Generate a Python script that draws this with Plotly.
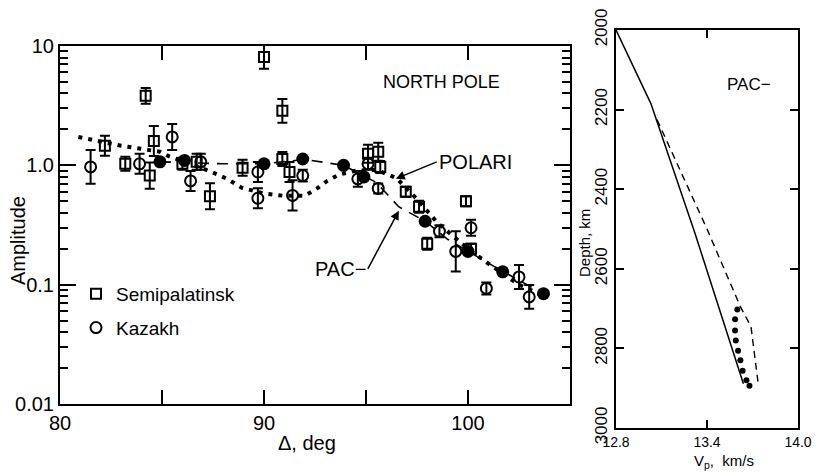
import numpy as np
import plotly.graph_objects as go

# ---------------- data: left panel (amplitude vs distance) ----------------
semi_x = [82.2, 83.2, 84.2, 84.4, 84.6, 86.0, 86.7, 87.35, 88.95, 90.0, 90.9, 90.9, 91.25,
          95.1, 95.6, 95.7, 96.95, 97.6, 98.0, 99.9, 100.15]
semi_y = [1.46, 1.03, 3.82, 0.82, 1.60, 1.03, 1.07, 0.55, 0.955, 8.1, 2.86, 1.13, 0.88,
          1.25, 1.30, 0.97, 0.60, 0.45, 0.22, 0.50, 0.20]
semi_err_log = [0.084, 0.059, 0.067, 0.109, 0.126, 0.05, 0.067, 0.109, 0.067, 0.10, 0.10, 0.059, 0.084,
                0.075, 0.075, 0.05, 0.042, 0.05, 0.05, 0.042, 0.042]

kaz_x = [81.5, 83.9, 85.5, 86.4, 86.9, 89.7, 89.7, 91.4, 91.9, 94.6, 95.1, 95.6,
         98.6, 99.4, 100.15, 100.9, 102.5, 103.0]
kaz_y = [0.97, 1.03, 1.73, 0.74, 1.07, 0.88, 0.53, 0.56, 0.82, 0.77, 1.03, 0.64,
         0.28, 0.19, 0.30, 0.093, 0.116, 0.079]
kaz_err_log = [0.142, 0.084, 0.109, 0.084, 0.067, 0.084, 0.084, 0.126, 0.05, 0.067, 0.05, 0.042,
               0.05, 0.168, 0.067, 0.05, 0.10, 0.10]

syn_x = [84.9, 86.1, 90.0, 91.9, 93.9, 94.9, 97.9, 100.0, 101.7, 103.7]
syn_y = [1.07, 1.10, 1.03, 1.13, 1.0, 0.80, 0.34, 0.19, 0.128, 0.084]

pac_x = [84.9, 88.0, 90.0, 92.0, 93.9, 95.5, 96.6, 97.9, 99.0, 100.0, 101.5, 103.7]
pac_y = [1.07, 1.03, 1.03, 1.12, 1.0, 0.72, 0.45, 0.34, 0.24, 0.19, 0.135, 0.084]

polari_x = [80.9, 83.0, 84.9, 85.3, 87.3, 88.2, 88.9, 90.0, 91.0, 92.0, 92.6, 93.1, 93.7,
            94.5, 95.5, 96.5, 97.5, 98.5, 100.0, 101.0, 102.5, 103.6]
polari_y = [1.73, 1.46, 1.30, 1.20, 0.90, 0.77, 0.65, 0.58, 0.555, 0.555, 0.64, 0.74, 0.84,
            0.90, 0.92, 0.78, 0.52, 0.33, 0.20, 0.15, 0.10, 0.082]

# ---------------- data: right panel (velocity profiles) ----------------
solid_vp = [12.8, 13.03, 13.32, 13.64]
solid_depth = [2000, 2185, 2510, 2889]
dash_vp = [13.07, 13.40, 13.62, 13.69, 13.74]
dash_depth = [2225, 2500, 2695, 2745, 2896]
dot_vp = [13.60, 13.585, 13.585, 13.59, 13.605, 13.62, 13.635, 13.66, 13.68]
dot_depth = [2702, 2727, 2755, 2780, 2806, 2830, 2856, 2880, 2894]

amp_tickvals = [0.01, 0.1, 1.0, 10]
amp_ticktext = ["0.01", "0.1", "1.0", "10"]
dist_tickvals = [80, 90, 100]
dist_ticktext = ["80", "90", "100"]
dist_minor = [85, 95, 105]
vp_tickvals = [12.8, 13.4, 14.0]
vp_ticktext = ["12.8", "13.4", "14.0"]
depth_tickvals = [2000, 2200, 2400, 2600, 2800, 3000]


def err_arrays(y, elog):
    y = np.array(y)
    e = np.array(elog)
    return (y * (10 ** e - 1)).tolist(), (y * (1 - 10 ** (-e))).tolist()


FONT = "Liberation Sans"
W, H = 816, 473
fig = go.Figure()

fig.add_trace(go.Scatter(x=polari_x, y=polari_y, mode="lines", showlegend=False,
                         line=dict(color="black", width=4, dash="4px,6px")))
fig.add_trace(go.Scatter(x=pac_x, y=pac_y, mode="lines", showlegend=False,
                         line=dict(color="black", width=1.6, dash="11px,8px")))

sp, sm = err_arrays(semi_y, semi_err_log)
fig.add_trace(go.Scatter(x=semi_x, y=semi_y, mode="markers", name="Semipalatinsk",
                         legendgroup="a",
                         marker=dict(symbol="square-open", size=10, color="black",
                                     line=dict(width=2, color="black")),
                         error_y=dict(type="data", array=sp, arrayminus=sm, symmetric=False,
                                      color="black", thickness=2, width=5)))
kp, km = err_arrays(kaz_y, kaz_err_log)
fig.add_trace(go.Scatter(x=kaz_x, y=kaz_y, mode="markers", name="Kazakh",
                         legendgroup="b",
                         marker=dict(symbol="circle-open", size=11, color="black",
                                     line=dict(width=2, color="black")),
                         error_y=dict(type="data", array=kp, arrayminus=km, symmetric=False,
                                      color="black", thickness=2, width=5)))
fig.add_trace(go.Scatter(x=syn_x, y=syn_y, mode="markers", showlegend=False,
                         marker=dict(symbol="circle", size=13, color="black")))

# right panel
fig.add_trace(go.Scatter(x=solid_vp, y=solid_depth, mode="lines", showlegend=False,
                         xaxis="x2", yaxis="y2", line=dict(color="black", width=1.5)))
fig.add_trace(go.Scatter(x=dash_vp, y=dash_depth, mode="lines", showlegend=False,
                         xaxis="x2", yaxis="y2", line=dict(color="black", width=1.4, dash="7px,5px")))
fig.add_trace(go.Scatter(x=dot_vp, y=dot_depth, mode="markers", showlegend=False,
                         xaxis="x2", yaxis="y2", marker=dict(color="black", size=6, symbol="circle")))

axcommon = dict(showline=True, linecolor="black", linewidth=2, mirror="ticks",
                ticks="inside", tickcolor="black", tickwidth=2, showgrid=False,
                zeroline=False, automargin=False)

minor_vals = [m * 10 ** d for d in range(-2, 1) for m in range(2, 10)]

fig.update_layout(
    width=W, height=H,
    margin=dict(l=0, r=0, t=0, b=0, autoexpand=False),
    paper_bgcolor="white", plot_bgcolor="white",
    font=dict(family=FONT, color="black", size=19),
    showlegend=True,
    legend=dict(x=76 / W, y=1 - 275 / H, xanchor="left", yanchor="top", bgcolor="rgba(0,0,0,0)",
                borderwidth=0, font=dict(size=19, family=FONT), tracegroupgap=6,
                itemwidth=30),
    xaxis=dict(domain=[60 / W, 570 / W], range=[80, 105], tickvals=dist_tickvals,
               ticktext=dist_ticktext, ticklen=14, tickfont=dict(size=20),
               minor=dict(tickvals=dist_minor, ticks="inside", ticklen=14, tickwidth=2,
                          tickcolor="black"),
               anchor="y", **axcommon),
    yaxis=dict(domain=[1 - 404 / H, 1 - 46 / H], type="log", range=[-2, 1],
               tickvals=amp_tickvals, ticktext=amp_ticktext, ticklen=16, tickfont=dict(size=20),
               minor=dict(tickvals=minor_vals, ticks="inside", ticklen=8, tickwidth=2,
                          tickcolor="black"),
               anchor="x", **axcommon),
    xaxis2=dict(domain=[616 / W, 798 / W], range=[12.8, 14.0], tickvals=vp_tickvals,
                ticktext=vp_ticktext, ticklen=8, tickfont=dict(size=14),
                anchor="y2", **axcommon),
    yaxis2=dict(domain=[1 - 428 / H, 1 - 30 / H], range=[3000, 2000], tickvals=depth_tickvals,
                ticklen=8, tickangle=-90, tickfont=dict(size=17),
                anchor="x2", **axcommon),
)

# axis titles
cm = dict(xref="paper", yref="paper", showarrow=False, xanchor="center", yanchor="middle")
fig.add_annotation(x=18 / W, y=1 - 241 / H, text="Amplitude", textangle=-90,
                   font=dict(size=20), **cm)
fig.add_annotation(x=307 / W, y=1 - 443 / H, text="Δ, deg", font=dict(size=20), **cm)
fig.add_annotation(x=724 / W, y=1 - 461 / H, text="V<sub>p</sub>,  km/s", font=dict(size=15), **cm)
fig.add_annotation(x=584 / W, y=1 - 243 / H, text="Depth, km", textangle=-90,
                   font=dict(size=15), **cm)

# in-plot labels
fig.add_annotation(x=98.72, y=0.699, xref="x", yref="y", text="NORTH POLE", showarrow=False,
                   font=dict(size=18))
fig.add_annotation(x=96.46, y=-0.113, xref="x", yref="y", text="POLARI", showarrow=True,
                   ax=41, ay=-17, xanchor="left", yanchor="middle", font=dict(size=20),
                   arrowhead=2, arrowsize=1.2, arrowwidth=1.5, arrowcolor="black")
fig.add_annotation(x=96.61, y=-0.381, xref="x", yref="y", text="PAC−", showarrow=True,
                   ax=-31, ay=58, xanchor="right", yanchor="middle", font=dict(size=20),
                   arrowhead=2, arrowsize=1.2, arrowwidth=1.5, arrowcolor="black")
fig.add_annotation(x=13.68, y=2138, xref="x2", yref="y2", text="PAC−", showarrow=False,
                   font=dict(size=17))

fig.write_html("out.html")
